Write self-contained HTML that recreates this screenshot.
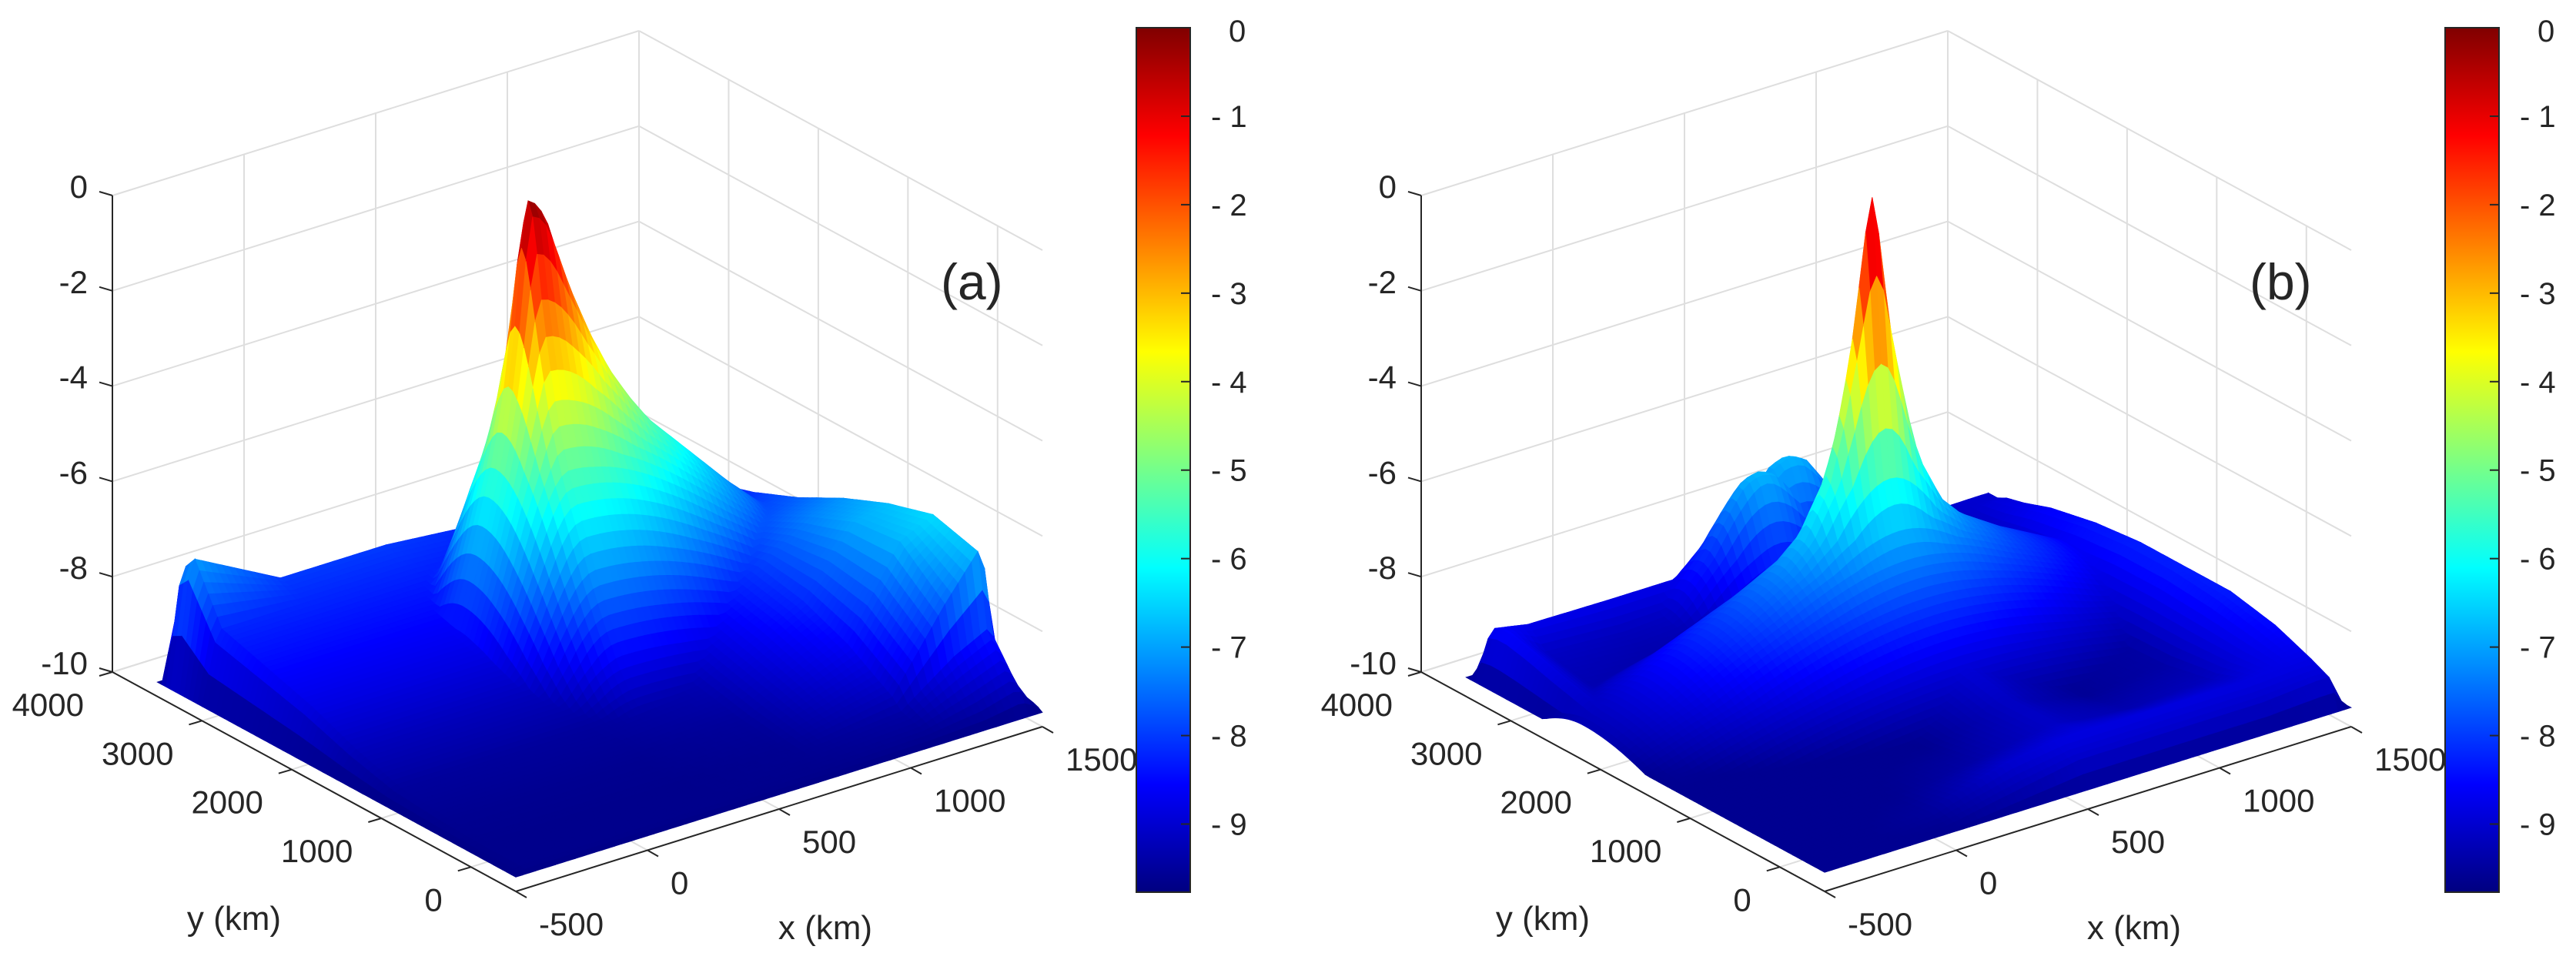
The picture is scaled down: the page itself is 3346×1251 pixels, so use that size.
<!DOCTYPE html>
<html>
<head>
<meta charset="utf-8">
<style>
html,body{margin:0;padding:0;background:#fff;}
svg{display:block;}
text{font-family:"Liberation Sans",Arial,sans-serif;fill:#262626;}
</style>
</head>
<body>
<svg id="fig" width="3346" height="1251" viewBox="0 0 3346 1251" xmlns="http://www.w3.org/2000/svg">
<defs>
<linearGradient id="jetGrad" x1="0" y1="1" x2="0" y2="0">
<stop offset="0" stop-color="rgb(0,0,128)"/>
<stop offset="0.125" stop-color="rgb(0,0,255)"/>
<stop offset="0.375" stop-color="rgb(0,255,255)"/>
<stop offset="0.625" stop-color="rgb(255,255,0)"/>
<stop offset="0.875" stop-color="rgb(255,0,0)"/>
<stop offset="1" stop-color="rgb(128,0,0)"/>
</linearGradient>
</defs>
<g id="panelA"></g>
<g id="panelB"></g>
</svg>
<script>
// ---------- axis / tick data ----------
const xTicks = [-500, 0, 500, 1000, 1500];
const yTicks = [0, 1000, 2000, 3000, 4000];
const zTicks = [0, -2, -4, -6, -8, -10];
const cbTicks = [0, 1, 2, 3, 4, 5, 6, 7, 8, 9];
const cLimits = [-9.77, 0];

// ---------- panel (a) surface data ----------
const aBaseX = [-500, -440, -100, 300, 700, 1100, 1300, 1440, 1500];
const aBaseY = [-500, -420, -100, 0, 500, 1000, 1500, 2000, 2500, 3000, 3300, 3420, 3500];
const aBaseZ = [
  [-9.7, -9.7, -9.7, -9.7, -9.7, -9.7, -9.7, -9.7, -9.7],
  [-9.7, -9.65, -9.65, -9.65, -9.65, -9.6, -9.5, -9.3, -9.6],
  [-9.7, -9.65, -9.65, -9.65, -9.6, -9.4, -8.6, -8.2, -9.6],
  [-9.7, -9.65, -9.65, -9.65, -9.6, -9.2, -7.6, -6.6, -9.6],
  [-9.7, -9.6, -9.6, -9.6, -9.5, -8.6, -6.8, -6.4, -9.5],
  [-9.7, -9.5, -9.5, -9.5, -9.3, -8.2, -6.9, -6.7, -9.5],
  [-9.7, -9.2, -9.2, -9.2, -9.0, -8.0, -7.3, -7.1, -9.5],
  [-9.7, -8.8, -8.8, -8.8, -8.6, -8.2, -7.8, -7.6, -9.5],
  [-9.7, -8.5, -8.5, -8.5, -8.5, -8.4, -8.2, -8.0, -9.5],
  [-9.7, -8.2, -8.2, -8.2, -8.3, -8.5, -8.5, -8.3, -9.5],
  [-9.7, -7.0, -8.0, -8.0, -8.2, -8.6, -8.7, -8.6, -9.5],
  [-9.7, -7.3, -8.4, -8.4, -8.5, -8.8, -9.0, -9.0, -9.5],
  [-9.7, -9.7, -9.7, -9.7, -9.7, -9.7, -9.7, -9.7, -9.7]
];
const aPeakCenter = [500, 2300];
const aPeakStretch = [5, 1.35, 1.3, 1.8]; // -x, +x, -y, +y
const aPeakR = [0, 50, 100, 200, 300, 400, 500, 600, 800, 1000, 1200, 1400, 1600, 2000];
const aPeakZ = [-0.1, -0.25, -0.7, -2.1, -3.2, -4.1, -4.8, -5.4, -6.3, -7.2, -8.0, -8.7, -9.2, -9.8];

// ---------- panel (b) surface data ----------
const bBaseX = [-500, -440, -300, 0, 300, 500, 600, 700, 900, 1200, 1400, 1450, 1500];
const bBaseY = [-500, -420, -200, 200, 700, 1200, 1700, 2200, 2700, 3000, 3200, 3300, 3420, 3500];
const bBaseZ = [
  [-9.7, -9.7, -9.7, -9.7, -9.7, -9.7, -9.7, -9.7, -9.7, -9.7, -9.7, -9.7, -9.7],
  [-9.7, -9.65, -9.65, -9.6, -9.3, -9.1, -9.1, -9.1, -9.1, -9.1, -9.0, -9.0, -9.6],
  [-9.7, -9.65, -9.65, -9.5, -9.0, -8.85, -8.85, -8.85, -8.85, -8.85, -8.8, -8.8, -9.6],
  [-9.7, -9.65, -9.65, -9.6, -9.4, -9.2, -9.1, -9.2, -9.3, -9.2, -8.6, -8.5, -9.6],
  [-9.7, -9.65, -9.65, -9.65, -9.6, -9.3, -9.1, -9.3, -9.55, -9.4, -8.4, -8.3, -9.6],
  [-9.7, -9.6, -9.6, -9.65, -9.6, -9.1, -8.9, -9.1, -9.55, -9.45, -8.3, -8.3, -9.6],
  [-9.7, -9.45, -9.55, -9.6, -9.5, -8.9, -8.6, -8.9, -9.5, -9.5, -8.3, -8.3, -9.6],
  [-9.7, -9.1, -9.4, -9.5, -9.3, -8.8, -8.5, -8.9, -9.5, -9.55, -8.4, -8.4, -9.6],
  [-9.7, -8.8, -9.3, -9.4, -9.2, -8.9, -8.8, -9.1, -9.5, -9.55, -8.6, -8.6, -9.6],
  [-9.7, -8.6, -9.2, -9.3, -9.2, -9.0, -9.0, -9.2, -9.5, -9.5, -8.8, -8.8, -9.6],
  [-9.7, -8.5, -9.1, -9.2, -9.1, -9.0, -9.1, -9.2, -9.4, -9.4, -8.9, -8.9, -9.6],
  [-9.7, -8.5, -8.9, -9.0, -9.0, -9.0, -9.0, -9.0, -9.1, -9.1, -9.0, -9.0, -9.6],
  [-9.7, -8.6, -8.7, -8.7, -8.7, -8.8, -8.9, -9.0, -9.0, -9.0, -9.0, -9.0, -9.6],
  [-9.7, -9.7, -9.7, -9.7, -9.7, -9.7, -9.7, -9.7, -9.7, -9.7, -9.7, -9.7, -9.7]
];
const bPeakCenter = [600, 2200];
const bPeakStretch = [1.1, 1.2, 1, 1.6];
const bPeakR = [0, 25, 50, 75, 100, 150, 200, 300, 400, 600, 800, 1000, 1400];
const bPeakZ = [-0.1, -0.7, -1.7, -2.7, -3.5, -4.8, -5.8, -6.8, -7.3, -7.9, -8.4, -8.9, -9.6];
const bBump1Center = [520, 3230];
const bBump2Center = [660, 3320];
const bBumpStretch = [1.2, 1.2, 1, 1];
const bBumpR = [0, 80, 160, 250, 400, 600];
const bBumpZ = [-6.75, -6.95, -7.5, -8.2, -9.0, -9.7];

// ---------- projection ----------
const SVGNS = "http://www.w3.org/2000/svg";
function proj(x, y, z, off) {
  const a = (x + 500) / 2000, b = (y + 500) / 4500;
  return [off + 670 + 684 * a - 524 * b, 1158 - 214 * a - 285 * b - (z + 10) * 61.9];
}
function jet(z) {
  let t = (z - cLimits[0]) / (cLimits[1] - cLimits[0]);
  t = Math.max(0, Math.min(1, t));
  const cl = v => Math.max(0, Math.min(1, v));
  const r = cl(1.5 - Math.abs(4 * t - 3)), g = cl(1.5 - Math.abs(4 * t - 2)), b = cl(1.5 - Math.abs(4 * t - 1));
  return "rgb(" + Math.round(r * 255) + "," + Math.round(g * 255) + "," + Math.round(b * 255) + ")";
}
function loc(arr, v) {
  let i = 0;
  while (i < arr.length - 2 && v > arr[i + 1]) i++;
  let t = (v - arr[i]) / (arr[i + 1] - arr[i]);
  return [i, Math.max(0, Math.min(1, t))];
}
function baseZ(xs, ys, Z, x, y) {
  const [i, tx] = loc(xs, x), [j, ty] = loc(ys, y);
  const z0 = Z[j][i] * (1 - tx) + Z[j][i + 1] * tx;
  const z1 = Z[j + 1][i] * (1 - tx) + Z[j + 1][i + 1] * tx;
  return z0 * (1 - ty) + z1 * ty;
}
function profile(R, Zp, r) {
  if (r >= R[R.length - 1]) return Zp[Zp.length - 1];
  const [i, t] = loc(R, r);
  return Zp[i] * (1 - t) + Zp[i + 1] * t;
}
function featureZ(f, x, y) {
  const dx = x - f.c[0], dy = y - f.c[1];
  const kx = dx < 0 ? f.s[0] : f.s[1], ky = dy < 0 ? f.s[2] : f.s[3];
  const r = Math.sqrt((dx * kx) * (dx * kx) + (dy * ky) * (dy * ky));
  return profile(f.R, f.Z, r);
}
function surfZ(d, x, y) {
  let z = baseZ(d.bx, d.by, d.bz, x, y);
  d.features.forEach(f => { z = Math.max(z, featureZ(f, x, y)); });
  return z;
}

function line(g, p, q, color, w, name) {
  const el = document.createElementNS(SVGNS, "line");
  
  
  el.setAttribute("x1", p[0]); el.setAttribute("y1", p[1]);
  el.setAttribute("x2", q[0]); el.setAttribute("y2", q[1]);
  el.setAttribute("stroke", color); el.setAttribute("stroke-width", w);
  g.appendChild(el);
  return el;
}
function text(g, x, y, s, size, anchor, name) {
  const el = document.createElementNS(SVGNS, "text");
  
  
  el.setAttribute("x", x); el.setAttribute("y", y);
  el.setAttribute("font-size", size);
  el.setAttribute("text-anchor", anchor);
  el.textContent = s;
  g.appendChild(el);
  return el;
}

function drawPanel(g, off, d, label) {
  const grid = "#dedede";
  xTicks.forEach(x => line(g, proj(x, 4000, -10, off), proj(x, 4000, 0, off), grid, 2, "grid-line-x"));
  zTicks.forEach(z => line(g, proj(-500, 4000, z, off), proj(1500, 4000, z, off), grid, 2, "grid-line-z"));
  yTicks.forEach(y => line(g, proj(1500, y, -10, off), proj(1500, y, 0, off), grid, 2, "grid-line-y"));
  zTicks.forEach(z => line(g, proj(1500, -500, z, off), proj(1500, 4000, z, off), grid, 2, "grid-line-z"));
  xTicks.forEach(x => line(g, proj(x, -500, -10, off), proj(x, 4000, -10, off), grid, 2, "floor-grid-x"));
  yTicks.forEach(y => line(g, proj(-500, y, -10, off), proj(1500, y, -10, off), grid, 2, "floor-grid-y"));

  const sg = document.createElementNS(SVGNS, "g");
  
  
  g.appendChild(sg);
  const nx = 80, ny = 80;
  const xs = [], ys = [];
  for (let i = 0; i <= nx; i++) xs.push(-500 + 2000 * i / nx);
  for (let j = 0; j <= ny; j++) ys.push(-500 + 4000 * j / ny);
  const Z = ys.map(y => xs.map(x => surfZ(d, x, y)));
  const P = ys.map((y, j) => xs.map((x, i) => proj(x, y, Z[j][i], off)));
  let html = "";
  for (let j = ny - 1; j >= 0; j--) {
    for (let i = nx - 1; i >= 0; i--) {
      const zc = (Z[j][i] + Z[j][i + 1] + Z[j + 1][i] + Z[j + 1][i + 1]) / 4;
      const c = jet(zc);
      const p1 = P[j][i], p2 = P[j][i + 1], p3 = P[j + 1][i + 1], p4 = P[j + 1][i];
      html += '<path d="M' + p1[0].toFixed(1) + ' ' + p1[1].toFixed(1) +
        'L' + p2[0].toFixed(1) + ' ' + p2[1].toFixed(1) + 'L' + p3[0].toFixed(1) + ' ' + p3[1].toFixed(1) +
        'L' + p4[0].toFixed(1) + ' ' + p4[1].toFixed(1) + 'Z" fill="' + c + '" stroke="' + c + '" stroke-width="0.8"/>';
    }
  }
  sg.innerHTML = html;

  const ax = "#262626";
  line(g, proj(-500, 4000, -10, off), proj(-500, 4000, 0, off), ax, 2, "z-axis-line");
  line(g, proj(-500, -500, -10, off), proj(-500, 4000, -10, off), ax, 2, "y-axis-line");
  line(g, proj(-500, -500, -10, off), proj(1500, -500, -10, off), ax, 2, "x-axis-line");
  zTicks.forEach(z => {
    const p = proj(-500, 4000, z, off);
    line(g, p, [p[0] - 17, p[1] - 5], ax, 2, "z-tick");
    text(g, off + 114, p[1] + 3, String(z), 42, "end", "z-tick-label");
  });
  xTicks.forEach(x => {
    const p = proj(x, -500, -10, off);
    line(g, p, [p[0] + 14, p[1] + 8], ax, 2, "x-tick");
    text(g, p[0] + 30, p[1] + 57, String(x), 42, "start", "x-tick-label");
  });
  yTicks.forEach(y => {
    const p = proj(-500, y, -10, off);
    line(g, p, [p[0] - 17, p[1] + 5], ax, 2, "y-tick");
    text(g, p[0] - 37, p[1] + 57, String(y), 42, "end", "y-tick-label");
  });
  text(g, off + 1072, 1220, "x (km)", 44, "middle", "x-axis-title");
  text(g, off + 304, 1208, "y (km)", 44, "middle", "y-axis-title");
  text(g, off + 1222, 389, label, 66, "start", "panel-label");

  const cb = document.createElementNS(SVGNS, "rect");
  
  
  cb.setAttribute("x", off + 1476); cb.setAttribute("y", 36);
  cb.setAttribute("width", 70); cb.setAttribute("height", 1123);
  cb.setAttribute("fill", "url(#jetGrad)");
  cb.setAttribute("stroke", "#262626"); cb.setAttribute("stroke-width", 2);
  g.appendChild(cb);
  const cbTop = 36, cbH = 1123;
  cbTicks.forEach(v => {
    const yy = cbTop + v / (cLimits[1] - cLimits[0]) * cbH;
    if (v > 0) {
      line(g, [off + 1534, yy], [off + 1546, yy], "#262626", 2, "colorbar-tick");
      text(g, off + 1573, yy + 14, "- " + v, 40, "start", "colorbar-tick-label");
    } else {
      text(g, off + 1596, 54, "0", 40, "start", "colorbar-tick-label");
    }
  });
}

drawPanel(document.getElementById("panelA"), 0,
  {bx: aBaseX, by: aBaseY, bz: aBaseZ,
   features: [{c: aPeakCenter, s: aPeakStretch, R: aPeakR, Z: aPeakZ}]}, "(a)");
drawPanel(document.getElementById("panelB"), 1700,
  {bx: bBaseX, by: bBaseY, bz: bBaseZ,
   features: [{c: bPeakCenter, s: bPeakStretch, R: bPeakR, Z: bPeakZ},
              {c: bBump1Center, s: bBumpStretch, R: bBumpR, Z: bBumpZ},
              {c: bBump2Center, s: bBumpStretch, R: bBumpR, Z: bBumpZ}]}, "(b)");
</script>
</body>
</html>
